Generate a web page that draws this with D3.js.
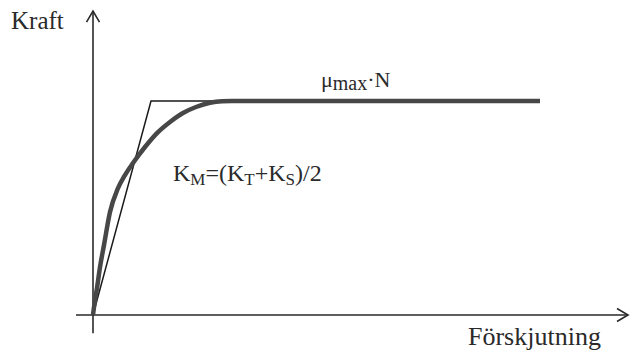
<!DOCTYPE html>
<html>
<head>
<meta charset="utf-8">
<script src="https://cdn.jsdelivr.net/npm/d3@7"></script>
<style>
  body { margin: 0; background: #fff; }
</style>
</head>
<body>
<svg id="chart" width="630" height="356"></svg>
<script>
// displacement (x) vs force (y), force normalised so that mu_max*N = 1
var curveX = [0, 0.4, 0.8, 1.4, 2.2, 3.4, 5.0, 6.4, 8.0, 10.4, 12.8, 15.4, 18.0, 20.6, 23.4, 25.8, 27.8, 89.4];
var curveY = [0, 0.07, 0.126, 0.224, 0.327, 0.481, 0.593, 0.654, 0.71, 0.785, 0.85, 0.902, 0.944, 0.972, 0.992, 0.999, 1, 1];

// bilinear approximation (thin line)
var bilinX = [0, 11.6, 27.8];
var bilinY = [0, 1, 1];

var xAxisExtent = [-3.4, 107];
var yAxisExtent = [-0.085, 1.42];

var svg = d3.select("#chart");

var x = d3.scaleLinear().domain([0, 100]).range([93, 593]);
var y = d3.scaleLinear().domain([0, 1]).range([315, 101]);

var defs = svg.append("defs");
defs.append("marker")
	.attr("id", "arrow")
	.attr("viewBox", "-14 -8 16 16")
	.attr("markerWidth", 16)
	.attr("markerHeight", 16)
	.attr("refX", 0)
	.attr("refY", 0)
	.attr("markerUnits", "userSpaceOnUse")
	.attr("orient", "auto")
	.append("path")
	.attr("d", "M-11,-6.5 L0,0 L-11,6.5")
	.attr("fill", "none")
	.attr("stroke", "#2a2a2a")
	.attr("stroke-width", 1.6);

// axes
svg.append("line")
	.attr("x1", x(xAxisExtent[0])).attr("y1", y(0))
	.attr("x2", x(xAxisExtent[1])).attr("y2", y(0))
	.attr("stroke", "#2a2a2a").attr("stroke-width", 1.6)
	.attr("marker-end", "url(#arrow)");

svg.append("line")
	.attr("x1", x(0)).attr("y1", y(yAxisExtent[0]))
	.attr("x2", x(0)).attr("y2", y(yAxisExtent[1]))
	.attr("stroke", "#2a2a2a").attr("stroke-width", 1.6)
	.attr("marker-end", "url(#arrow)");

var line = d3.line()
	.x(d => x(d[0]))
	.y(d => y(d[1]));

// thin bilinear line
svg.append("path")
	.datum(d3.zip(bilinX, bilinY))
	.attr("d", line)
	.attr("fill", "none")
	.attr("stroke", "#1a1a1a")
	.attr("stroke-width", 1.5)
	.attr("stroke-linejoin", "miter");

// thick smooth curve
svg.append("path")
	.datum(d3.zip(curveX, curveY))
	.attr("d", line.curve(d3.curveMonotoneX))
	.attr("fill", "none")
	.attr("stroke", "#474747")
	.attr("stroke-width", 4.5)
	.attr("stroke-linecap", "butt");

// labels
function label(px, py, size) {
	return svg.append("text")
		.attr("x", px).attr("y", py)
		.attr("font-size", size)
		.attr("fill", "#2a2a2a")
		.style("font-family", "Liberation Serif");
}

label(11, 29, 25).text("Kraft");
label(468, 345, 26).text("Förskjutning");

var mu = label(321, 87, 22);
mu.append("tspan").text("μ");
mu.append("tspan").attr("dy", 3).attr("font-size", 20).text("max");
mu.append("tspan").attr("dy", -3).text("·N");

var km = label(173, 181, 24);
km.append("tspan").text("K");
km.append("tspan").attr("dy", 3.5).attr("font-size", 17).text("M");
km.append("tspan").attr("dy", -3.5).text("=(K");
km.append("tspan").attr("dy", 3.5).attr("font-size", 17).text("T");
km.append("tspan").attr("dy", -3.5).text("+K");
km.append("tspan").attr("dy", 3.5).attr("font-size", 17).text("S");
km.append("tspan").attr("dy", -3.5).text(")/2");
</script>
</body>
</html>
